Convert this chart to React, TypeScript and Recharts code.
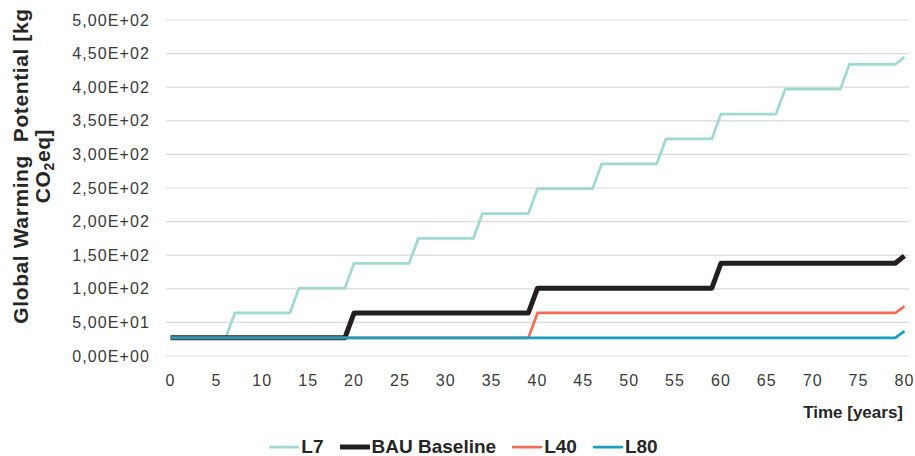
import { LineChart, Line, XAxis, YAxis, CartesianGrid } from "recharts";

const FONT = '"Liberation Sans", Arial, sans-serif';

// years on the x axis
const years = [
  0, 1, 2, 3, 4, 5, 6, 7, 8, 9,
  10, 11, 12, 13, 14, 15, 16, 17, 18, 19,
  20, 21, 22, 23, 24, 25, 26, 27, 28, 29,
  30, 31, 32, 33, 34, 35, 36, 37, 38, 39,
  40, 41, 42, 43, 44, 45, 46, 47, 48, 49,
  50, 51, 52, 53, 54, 55, 56, 57, 58, 59,
  60, 61, 62, 63, 64, 65, 66, 67, 68, 69,
  70, 71, 72, 73, 74, 75, 76, 77, 78, 79,
  80,
];

const l7 = [
  27, 27, 27, 27, 27, 27, 27, 64, 64, 64,
  64, 64, 64, 64, 101, 101, 101, 101, 101, 101,
  138, 138, 138, 138, 138, 138, 138, 175, 175, 175,
  175, 175, 175, 175, 212, 212, 212, 212, 212, 212,
  249, 249, 249, 249, 249, 249, 249, 286, 286, 286,
  286, 286, 286, 286, 323, 323, 323, 323, 323, 323,
  360, 360, 360, 360, 360, 360, 360, 397, 397, 397,
  397, 397, 397, 397, 434, 434, 434, 434, 434, 434,
  445,
];

const bau = [
  27, 27, 27, 27, 27, 27, 27, 27, 27, 27,
  27, 27, 27, 27, 27, 27, 27, 27, 27, 27,
  64, 64, 64, 64, 64, 64, 64, 64, 64, 64,
  64, 64, 64, 64, 64, 64, 64, 64, 64, 64,
  101, 101, 101, 101, 101, 101, 101, 101, 101, 101,
  101, 101, 101, 101, 101, 101, 101, 101, 101, 101,
  138, 138, 138, 138, 138, 138, 138, 138, 138, 138,
  138, 138, 138, 138, 138, 138, 138, 138, 138, 138,
  149,
];

const l40 = [
  27, 27, 27, 27, 27, 27, 27, 27, 27, 27,
  27, 27, 27, 27, 27, 27, 27, 27, 27, 27,
  27, 27, 27, 27, 27, 27, 27, 27, 27, 27,
  27, 27, 27, 27, 27, 27, 27, 27, 27, 27,
  64, 64, 64, 64, 64, 64, 64, 64, 64, 64,
  64, 64, 64, 64, 64, 64, 64, 64, 64, 64,
  64, 64, 64, 64, 64, 64, 64, 64, 64, 64,
  64, 64, 64, 64, 64, 64, 64, 64, 64, 64,
  74,
];

const l80 = [
  27, 27, 27, 27, 27, 27, 27, 27, 27, 27,
  27, 27, 27, 27, 27, 27, 27, 27, 27, 27,
  27, 27, 27, 27, 27, 27, 27, 27, 27, 27,
  27, 27, 27, 27, 27, 27, 27, 27, 27, 27,
  27, 27, 27, 27, 27, 27, 27, 27, 27, 27,
  27, 27, 27, 27, 27, 27, 27, 27, 27, 27,
  27, 27, 27, 27, 27, 27, 27, 27, 27, 27,
  27, 27, 27, 27, 27, 27, 27, 27, 27, 27,
  37,
];

const xTicks = [0, 5, 10, 15, 20, 25, 30, 35, 40, 45, 50, 55, 60, 65, 70, 75, 80];
const yTicks = [0, 50, 100, 150, 200, 250, 300, 350, 400, 450, 500];
const yTickLabels = [
  "0,00E+00", "5,00E+01", "1,00E+02", "1,50E+02", "2,00E+02", "2,50E+02",
  "3,00E+02", "3,50E+02", "4,00E+02", "4,50E+02", "5,00E+02",
];

const series = [
  { key: "l7", name: "L7", color: "#9fd9cf", width: 2.75 },
  { key: "bau", name: "BAU Baseline", color: "#231f20", width: 5 },
  { key: "l40", name: "L40", color: "#f36c56", width: 2.75 },
  { key: "l80", name: "L80", color: "#17a0c2", width: 2.75 },
];

const chartData = years.map((year, i) => ({
  year,
  l7: l7[i],
  bau: bau[i],
  l40: l40[i],
  l80: l80[i],
}));

const tickStyle = { fill: "#3a3a3a", fontSize: 16, fontFamily: FONT, letterSpacing: 1.1 };

function YTitle() {
  return (
    <g fontFamily={FONT} fontWeight="bold" fontSize={21} fill="#262626" letterSpacing={0.6}>
      <text transform="translate(28,166) rotate(-90)" textAnchor="middle" style={{ whiteSpace: "pre" }}>
        {"Global Warming  Potential [kg"}
      </text>
      <text transform="translate(50,166) rotate(-90)" textAnchor="middle">
        CO<tspan fontSize={14} dy={4}>2</tspan>
        <tspan dy={-4}>eq]</tspan>
      </text>
    </g>
  );
}

function XTitle() {
  return (
    <text x={903} y={418} textAnchor="end" fontFamily={FONT} fontWeight="bold" fontSize={17} fill="#262626">
      Time [years]
    </text>
  );
}

export default function App() {
  return (
    <div style={{ position: "absolute", left: 0, top: 0, width: 915, height: 456, background: "#fff" }}>
      <LineChart
        width={915}
        height={456}
        data={chartData}
        margin={{ top: 20, right: 6, bottom: 70, left: 0 }}
      >
        <CartesianGrid vertical={false} stroke="#d9d9d9" strokeWidth={1.2} />
        <XAxis
          dataKey="year"
          type="number"
          height={30}
          domain={[-0.5, 80.5]}
          ticks={xTicks}
          axisLine={false}
          tickLine={false}
          tickSize={8}
          tickMargin={11}
          tick={tickStyle}
          interval={0}
          label={<XTitle />}
        />
        <YAxis
          width={166}
          domain={[0, 500]}
          ticks={yTicks}
          tickFormatter={(v: number) => yTickLabels[yTicks.indexOf(v)]}
          axisLine={false}
          tickLine={false}
          tickSize={8}
          tickMargin={8}
          tick={tickStyle}
          interval={0}
          label={<YTitle />}
        />
        {series.map((s) => (
          <Line
            key={s.key}
            type="linear"
            dataKey={s.key}
            name={s.name}
            stroke={s.color}
            strokeWidth={s.width}
            strokeLinejoin="round"
            dot={false}
            activeDot={false}
            isAnimationActive={false}
          />
        ))}
      </LineChart>
      <div
        style={{
          position: "absolute",
          left: 0,
          width: 915,
          top: 436,
          display: "flex",
          justifyContent: "center",
          paddingLeft: 12,
          boxSizing: "border-box",
          fontFamily: FONT,
          fontWeight: "bold",
          fontSize: 19,
          color: "#262626",
        }}
      >
        {series.map((s) => (
          <div key={s.key} style={{ display: "flex", alignItems: "center", margin: "0 8px" }}>
            <svg width={30} height={10} style={{ marginRight: 2 }}>
              <line x1={1} y1={5} x2={29} y2={5} stroke={s.color} strokeWidth={s.width} strokeLinecap="round" />
            </svg>
            <span>{s.name}</span>
          </div>
        ))}
      </div>
    </div>
  );
}
